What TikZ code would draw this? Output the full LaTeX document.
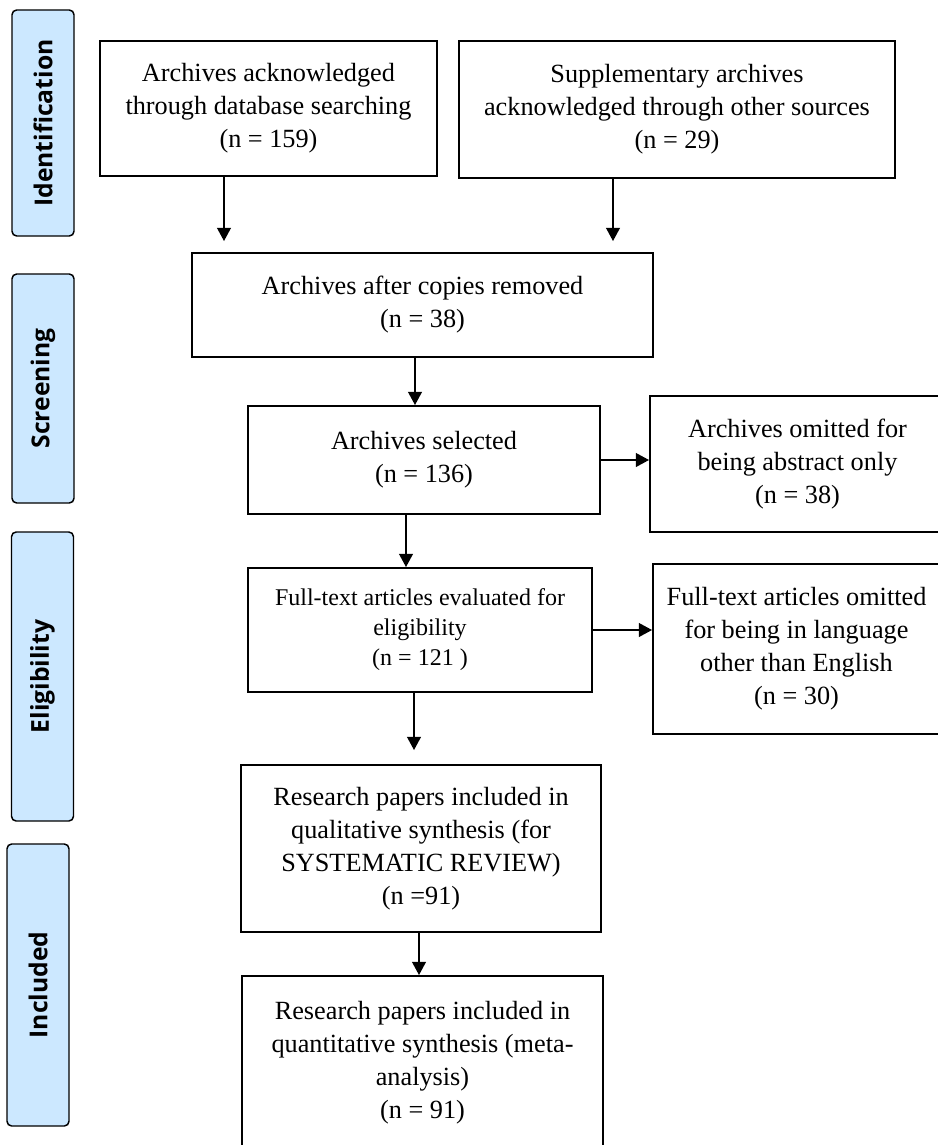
\documentclass[tikz,border=0pt]{standalone}
\usepackage{fontspec}
\setmainfont{Liberation Serif}
\newfontfamily\stagefont{Open Sans}
\usetikzlibrary{arrows.meta}
\definecolor{stageblue}{RGB}{204,232,255}

\begin{document}
\begin{tikzpicture}[x=0.75pt,y=-0.75pt,
  box/.style={draw, line width=1.2pt, align=center, inner sep=0pt,
    font=\fontsize{19.7pt}{24.75pt}\selectfont,
    execute at begin node={\rule{0pt}{19.5pt}}},
  stage/.style={rectangle, rounded corners=3.5pt, draw, line width=1.1pt,
    fill=stageblue, rotate=90, inner sep=0pt, minimum height=46.5pt,
    font=\stagefont\bfseries\fontsize{18.5pt}{22pt}\selectfont},
  arr/.style={line width=2.2pt, -{Triangle[length=10pt,width=10pt]}}]
\useasboundingbox (0,0) rectangle (938,1145);

% stages on the left
\node[stage, minimum width=169.5pt] (sid) at (43,123) {Identification};
\node[stage, minimum width=171.75pt] (sscr) at (43,388.5) {Screening};
\node[stage, minimum width=216.75pt] (selig) at (42.5,676.5) {Eligibility};
\node[stage, minimum width=211.5pt] (sinc) at (38,985) {Included};

% boxes
\node[box, minimum width=252.75pt, minimum height=101.25pt] (A) at (268.5,108.5)
  {Archives acknowledged\\through database searching\\(n = 159)};
\node[box, minimum width=327pt, minimum height=102.75pt] (B) at (677,109.5)
  {Supplementary archives\\acknowledged through other sources\\(n = 29)};
\node[box, minimum width=345.75pt, minimum height=78pt] (C) at (422.5,305)
  {Archives after copies removed\\(n = 38)};
\node[box, minimum width=264pt, minimum height=81pt] (D) at (424,460)
  {Archives selected\\(n = 136)};
\node[box, minimum width=221.25pt, minimum height=102pt] (E) at (797.5,464)
  {Archives omitted for\\being abstract only\\(n = 38)};
\node[box, minimum width=258pt, minimum height=93pt,
  font=\fontsize{18pt}{22.5pt}\selectfont,
  execute at begin node={\rule{0pt}{18.4pt}}] (F) at (420,630)
  {Full-text articles evaluated for\\eligibility\\(n = 121 )};
\node[box, minimum width=215.25pt, minimum height=127.5pt] (G) at (796.5,649)
  {Full-text articles omitted\\for being in language\\other than English\\(n = 30)};
\node[box, minimum width=270pt, minimum height=125.25pt] (H) at (421,848.5)
  {Research papers included in\\qualitative synthesis (for\\SYSTEMATIC REVIEW)\\(n =91)};
\node[box, minimum width=270.75pt, minimum height=130.5pt] (I) at (422.5,1063)
  {Research papers included in\\quantitative synthesis (meta-\\analysis)\\(n = 91)};

% arrows
\coordinate (colA) at (224,0);
\coordinate (colB) at (613,0);
\coordinate (colC) at (415,0);
\coordinate (colD) at (406,0);
\coordinate (colF) at (414,0);
\coordinate (colH) at (419,0);
\draw[arr, shorten >=8.25pt] (A.south -| colA) -- (C.north -| colA);
\draw[arr, shorten >=8.25pt] (B.south -| colB) -- (C.north -| colB);
\draw[arr] (C.south -| colC) -- (D.north -| colC);
\draw[arr] (D.east) -- (D.east -| E.west);
\draw[arr] (D.south -| colD) -- (F.north -| colD);
\draw[arr] (F.east) -- (F.east -| G.west);
\draw[arr, shorten >=10.5pt] (F.south -| colF) -- (H.north -| colF);
\draw[arr] (H.south -| colH) -- (I.north -| colH);

\end{tikzpicture}
\end{document}
